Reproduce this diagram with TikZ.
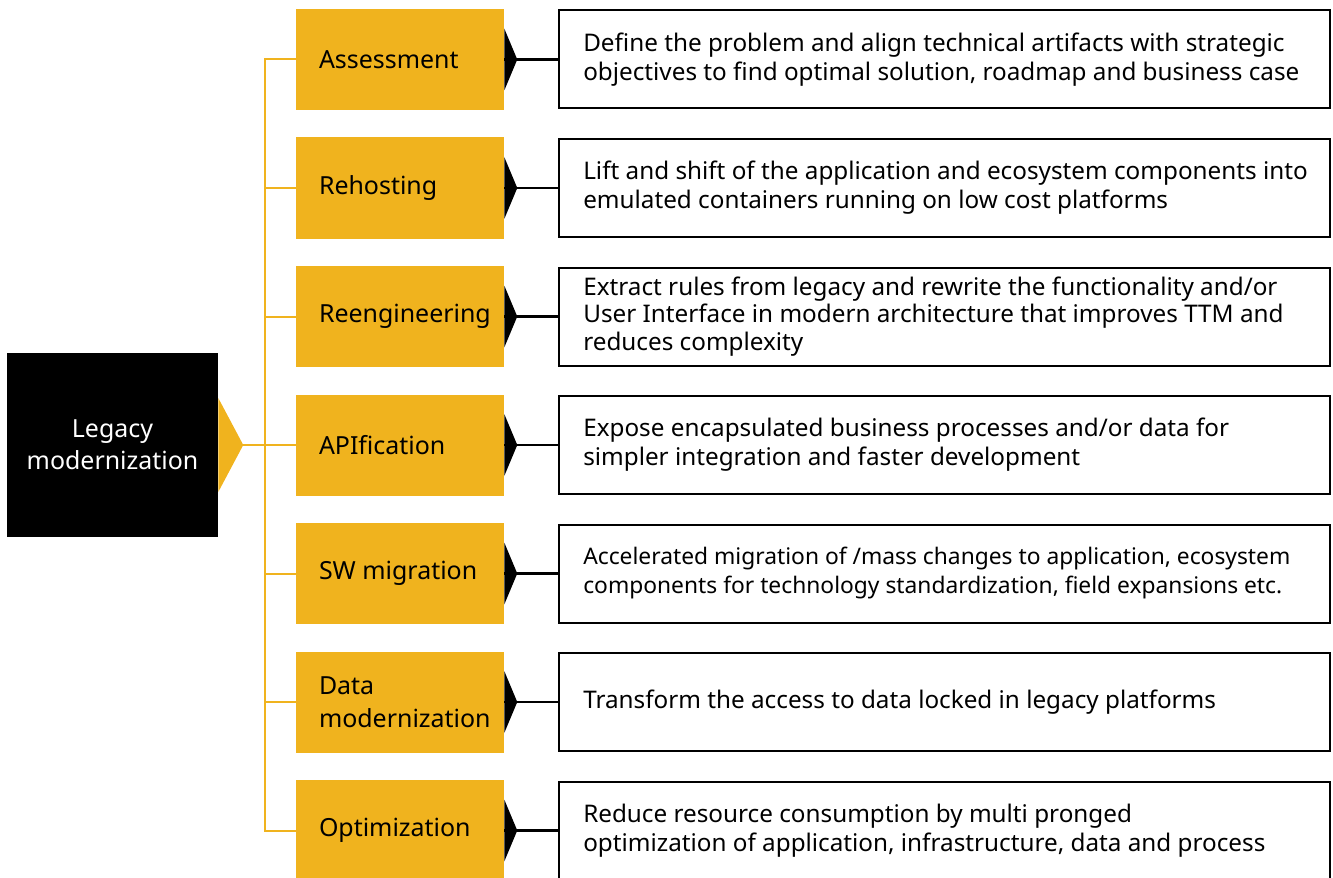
\documentclass[tikz,border=0pt]{standalone}
\usepackage{fontspec}
\setmainfont{Noto Sans}
\usetikzlibrary{positioning}
\definecolor{modyellow}{RGB}{240,179,30}

\tikzset{
  phasebox/.style={fill=modyellow, minimum width=156pt, minimum height=75.75pt, inner sep=0pt},
  phasetext/.style={anchor=west, inner sep=0pt, align=left, font=\fontsize{18.7}{24.75}\selectfont},
  descbox/.style={draw=black, line width=1.5pt, fill=white, minimum width=578.25pt, minimum height=73.5pt, inner sep=0pt},
  desctext/.style={anchor=west, inner sep=0pt, align=left, font=\fontsize{18.2}{21.75}\selectfont},
  trunk/.style={draw=modyellow, line width=1.5pt},
  link/.style={draw=black, line width=1.8pt}
}

\begin{document}
\begin{tikzpicture}[x=0.75pt,y=-0.75pt]
  \useasboundingbox (0,0) rectangle (1333,877);
  \clip (0,0) rectangle (1333,877);

  \node[fill=black, minimum width=158.25pt, minimum height=138pt, inner sep=0pt,
        text=white, align=center, font=\fontsize{18.7}{24}\selectfont] (legacy) at (112.5,445) {Legacy\\modernization};
  \fill[modyellow] (legacy.east) ++(0,-47) -- ++(25,47) -- ++(-25,47) -- cycle;
  \coordinate (legacytip) at (243,445);
  \coordinate (spine) at (265,445);

  \node[phasebox] (assess) at (400,59.5) {};
  \node[phasebox] (rehost) at (400,188) {};
  \node[phasebox] (reeng) at (400,316.5) {};
  \node[phasebox] (apif) at (400,445) {};
  \node[phasebox] (swmig) at (400,573.5) {};
  \node[phasebox] (datamod) at (400,702) {};
  \node[phasebox] (optim) at (400,830.5) {};

  \node[phasetext, right=17.25pt of assess.west] (assess-txt) {Assessment};
  \node[phasetext, right=17.25pt of rehost.west] (rehost-txt) {Rehosting};
  \node[phasetext, right=17.25pt of reeng.west] (reeng-txt) {Reengineering};
  \node[phasetext, right=17.25pt of apif.west] (apif-txt) {APIfication};
  \node[phasetext, right=17.25pt of swmig.west] (swmig-txt) {SW migration};
  \node[phasetext, right=17.25pt of datamod.west] (datamod-txt) {Data\\modernization};
  \node[phasetext, right=17.25pt of optim.west] (optim-txt) {Optimization};

  \node[descbox] (assess-d) at (944.5,59.5) {};
  \node[descbox] (rehost-d) at (944.5,188) {};
  \node[descbox] (reeng-d) at (944.5,316.5) {};
  \node[descbox] (apif-d) at (944.5,445) {};
  \node[descbox] (swmig-d) at (944.5,573.5) {};
  \node[descbox] (datamod-d) at (944.5,702) {};
  \node[descbox] (optim-d) at (944.5,830.5) {};

  \node[desctext, right=18.75pt of assess-d.west] (assess-dt) {Define the problem and align technical artifacts with strategic\\objectives to find optimal solution, roadmap and business case};
  \node[desctext, right=18.75pt of rehost-d.west] (rehost-dt) {Lift and shift of the application and ecosystem components into\\emulated containers running on low cost platforms};
  \node[desctext, right=18.75pt of reeng-d.west, font=\fontsize{18.2}{20.6}\selectfont] (reeng-dt) {Extract rules from legacy and rewrite the functionality and/or\\User Interface in modern architecture that improves TTM and\\reduces complexity};
  \node[desctext, right=18.75pt of apif-d.west] (apif-dt) {Expose encapsulated business processes and/or data for\\simpler integration and faster development};
  \node[desctext, right=18.75pt of swmig-d.west, font=\fontsize{17.1}{21.75}\selectfont] (swmig-dt) {Accelerated migration of /mass changes to application, ecosystem\\components for technology standardization, field expansions etc.};
  \node[desctext, right=18.75pt of datamod-d.west] (datamod-dt) {Transform the access to data locked in legacy platforms};
  \node[desctext, right=18.75pt of optim-d.west] (optim-dt) {Reduce resource consumption by multi pronged\\optimization of application, infrastructure, data and process};

  \draw[trunk] (legacytip) -- (spine) -- (apif.west);
  \draw[trunk] (spine) |- (assess.west);
  \draw[trunk] (spine) |- (rehost.west);
  \draw[trunk] (spine) |- (reeng.west);
  \draw[trunk] (spine) |- (swmig.west);
  \draw[trunk] (spine) |- (datamod.west);
  \draw[trunk] (spine) |- (optim.west);

  \draw[link] (assess.east) -- (assess-d.west);
  \draw[link] (rehost.east) -- (rehost-d.west);
  \draw[link] (reeng.east) -- (reeng-d.west);
  \draw[link] (apif.east) -- (apif-d.west);
  \draw[link] (swmig.east) -- (swmig-d.west);
  \draw[link] (datamod.east) -- (datamod-d.west);
  \draw[link] (optim.east) -- (optim-d.west);

  \fill (assess.east) ++(0,-31) -- ++(13,31) -- ++(-13,31) -- cycle;
  \fill (rehost.east) ++(0,-31) -- ++(13,31) -- ++(-13,31) -- cycle;
  \fill (reeng.east) ++(0,-31) -- ++(13,31) -- ++(-13,31) -- cycle;
  \fill (apif.east) ++(0,-31) -- ++(13,31) -- ++(-13,31) -- cycle;
  \fill (swmig.east) ++(0,-31) -- ++(13,31) -- ++(-13,31) -- cycle;
  \fill (datamod.east) ++(0,-31) -- ++(13,31) -- ++(-13,31) -- cycle;
  \fill (optim.east) ++(0,-31) -- ++(13,31) -- ++(-13,31) -- cycle;
\end{tikzpicture}
\end{document}
